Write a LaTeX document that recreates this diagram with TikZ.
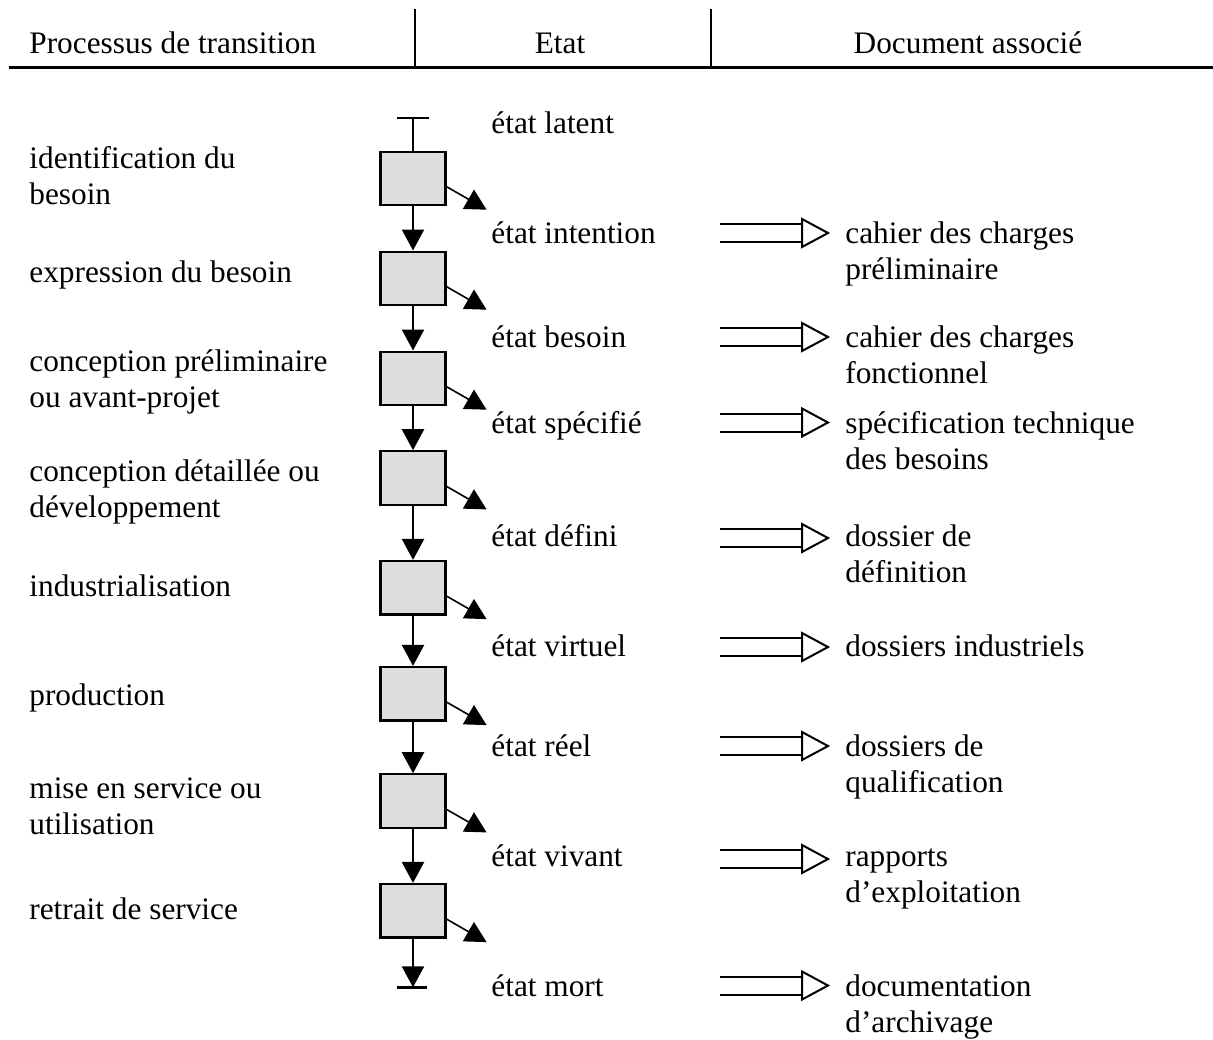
\documentclass[tikz,border=0pt]{standalone}
\usepackage{fontspec}
\setmainfont{Liberation Serif}
\usepackage{tikz}
\usetikzlibrary{arrows.meta}
\definecolor{boxgray}{RGB}{220,221,223}

\tikzset{
  docarrow/.pic={
    \draw[line width=1pt] (0,-9) -- (82,-9) (0,9) -- (82,9);
    \draw[line width=1pt, fill=white] (82,-14) -- (108,0) -- (82,14) -- cycle;
  }
}

\begin{document}
\begin{tikzpicture}[x=0.5pt,y=-0.5pt,
    every node/.style={inner sep=0pt, font=\fontsize{15.65}{18}\selectfont},
    txt/.style={anchor=base west, align=left},
    etape/.style={draw=black, line width=1.1pt, fill=boxgray, minimum width=32.5pt, minimum height=26.7pt},
    spine/.style={line width=1.2pt, -{Triangle[length=10.5pt,width=11pt]}},
    sortie/.style={line width=0.8pt, -{Triangle[length=10.5pt,width=11pt]}}]
  \useasboundingbox (0,0) rectangle (1213,1039);

  % en-tete
  \node[txt] (h1) at (29,53) {Processus de transition};
  \node[anchor=base] (h2) at (560,53) {Etat};
  \node[anchor=base] (h3) at (968,53) {Document associé};
  \draw[line width=1.5pt] (9,67) -- (1213,67);
  \draw[line width=0.65pt] (415,9) -- (415,67);
  \draw[line width=0.65pt] (711,9) -- (711,67);

  % processus (base = derniere ligne)
  \node[txt] (p1) at (29,204) {identification du\\besoin};
  \node[txt] (p2) at (29,282.7) {expression du besoin};
  \node[txt] (p3) at (29,407) {conception préliminaire\\ou avant-projet};
  \node[txt] (p4) at (29,517.3) {conception détaillée ou\\développement};
  \node[txt] (p5) at (29,596) {industrialisation};
  \node[txt] (p6) at (29,705) {production};
  \node[txt] (p7) at (29,834) {mise en service ou\\utilisation};
  \node[txt] (p8) at (29,919.3) {retrait de service};

  % boites de transition
  \node[etape] (b1) at (413,178.3) {};
  \node[etape] (b2) at (413,278.3) {};
  \node[etape] (b3) at (413,378.3) {};
  \node[etape] (b4) at (413,478) {};
  \node[etape] (b5) at (413,587.7) {};
  \node[etape] (b6) at (413,693.7) {};
  \node[etape] (b7) at (413,801) {};
  \node[etape] (b8) at (413,910.7) {};

  % etats
  \node[txt] (s0) at (491,133.3) {état latent};
  \node[txt] (s1) at (491,243.3) {état intention};
  \node[txt] (s2) at (491,347.7) {état besoin};
  \node[txt] (s3) at (491,433) {état spécifié};
  \node[txt] (s4) at (491,546.7) {état défini};
  \node[txt] (s5) at (491,656.7) {état virtuel};
  \node[txt] (s6) at (491,756.7) {état réel};
  \node[txt] (s7) at (491,866.7) {état vivant};
  \node[txt] (s8) at (491,996.7) {état mort};

  % documents (base = derniere ligne)
  \node[txt] (d1) at (845,279.3) {cahier des charges\\préliminaire};
  \node[txt] (d2) at (845,383.7) {cahier des charges\\fonctionnel};
  \node[txt] (d3) at (845,469) {spécification technique\\des besoins};
  \node[txt] (d4) at (845,582.7) {dossier de\\définition};
  \node[txt] (d5) at (845,656.7) {dossiers industriels};
  \node[txt] (d6) at (845,792.7) {dossiers de\\qualification};
  \node[txt] (d7) at (845,902.7) {rapports\\d’exploitation};
  \node[txt] (d8) at (845,1032.7) {documentation\\d’archivage};

  % axe vertical
  \coordinate (debut) at (413,118);
  \coordinate (fin) at (413,987.3);
  \draw[line width=1.2pt] ([xshift=-8pt]debut) -- ([xshift=8pt]debut);
  \draw[line width=1.2pt] (debut) -- (b1.north);
  \draw[spine] (b1.south) -- (b2.north);
  \draw[spine] (b2.south) -- (b3.north);
  \draw[spine] (b3.south) -- (b4.north);
  \draw[spine] (b4.south) -- (b5.north);
  \draw[spine] (b5.south) -- (b6.north);
  \draw[spine] (b6.south) -- (b7.north);
  \draw[spine] (b7.south) -- (b8.north);
  \draw[spine] (b8.south) -- (fin);
  \draw[line width=1.2pt] ([xshift=-8pt]fin) -- ([xshift=7pt]fin);

  % sorties des boites
  \draw[sortie] ([yshift=-4.2pt]b1.east) -- ++(40,23);
  \draw[sortie] ([yshift=-4.2pt]b2.east) -- ++(40,23);
  \draw[sortie] ([yshift=-4.2pt]b3.east) -- ++(40,23);
  \draw[sortie] ([yshift=-4.2pt]b4.east) -- ++(40,23);
  \draw[sortie] ([yshift=-4.2pt]b5.east) -- ++(40,23);
  \draw[sortie] ([yshift=-4.2pt]b6.east) -- ++(40,23);
  \draw[sortie] ([yshift=-4.2pt]b7.east) -- ++(40,23);
  \draw[sortie] ([yshift=-4.2pt]b8.east) -- ++(40,23);

  % fleches vers les documents
  \pic at (720,233) {docarrow};
  \pic at (720,337) {docarrow};
  \pic at (720,422.5) {docarrow};
  \pic at (720,538) {docarrow};
  \pic at (720,647) {docarrow};
  \pic at (720,746) {docarrow};
  \pic at (720,859) {docarrow};
  \pic at (720,985.5) {docarrow};
\end{tikzpicture}
\end{document}
